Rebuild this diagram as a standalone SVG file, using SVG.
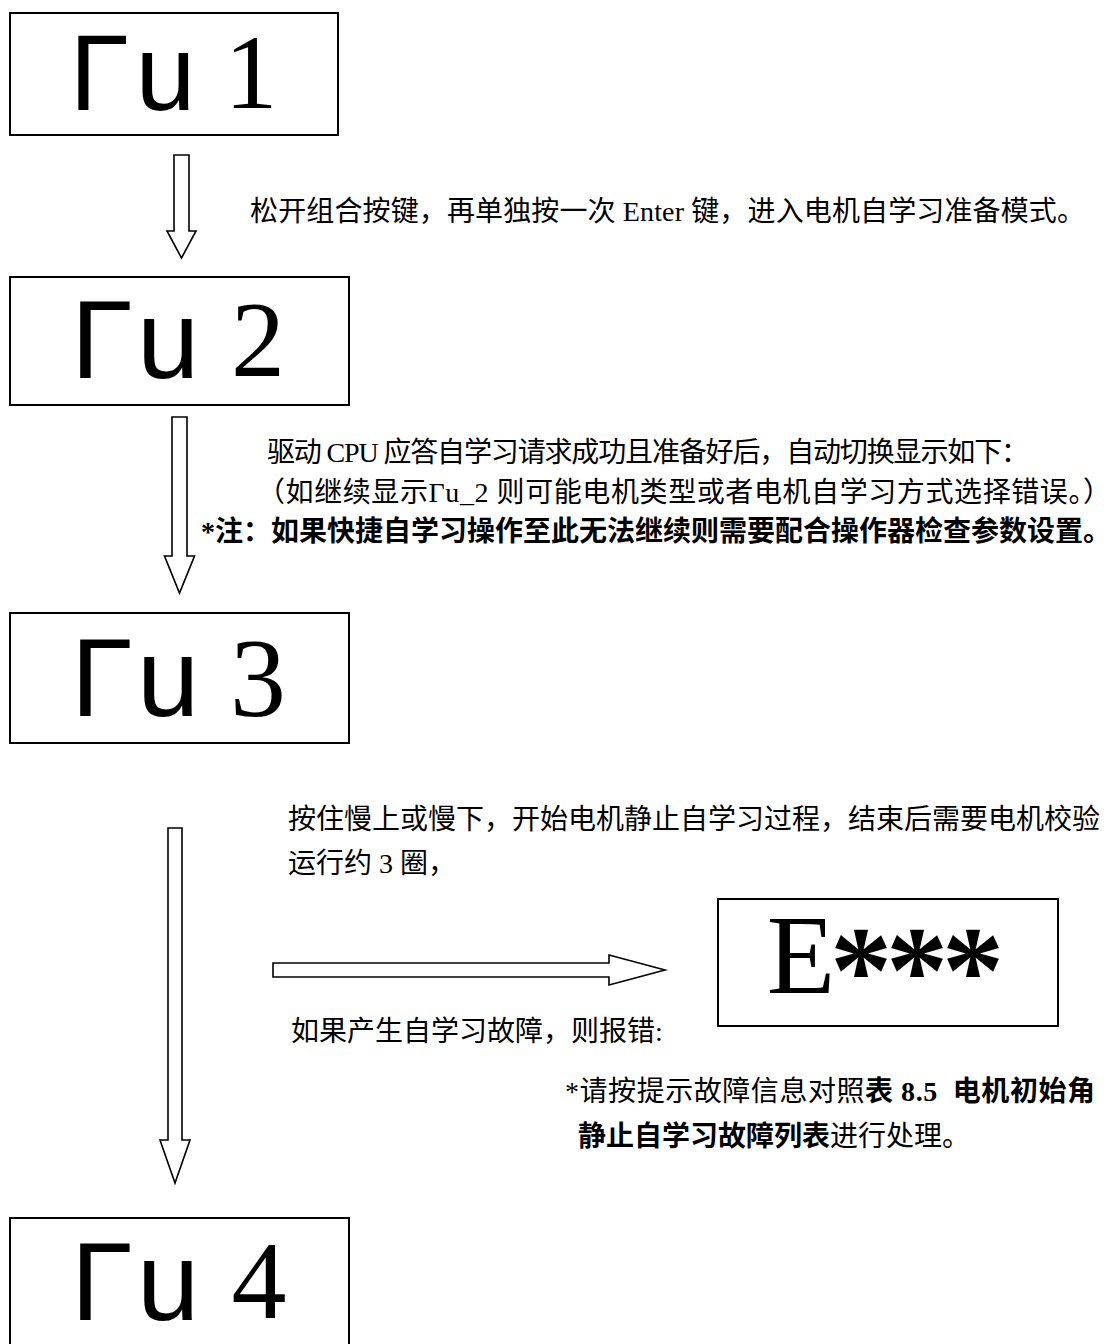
<svg xmlns="http://www.w3.org/2000/svg" width="1113" height="1344" viewBox="0 0 1113 1344">
<style>
.box{fill:#fff;stroke:#000;stroke-width:2}
.arr{fill:#fff;stroke:#000;stroke-width:1.6;stroke-linejoin:miter}
.g{font-family:"Liberation Sans",Arial,sans-serif;fill:#000}
.d{font-family:"Liberation Serif","Times New Roman",serif;fill:#000;text-anchor:middle}
.t{font-family:"Liberation Serif","Noto Sans CJK SC",serif;font-size:28px;fill:#000}
.b{font-weight:bold}
</style>
<rect width="1113" height="1344" fill="#fff"/>
<g id="connectors">
<polygon class="arr" points="174,155 189,155 189,231 196,231 181.5,258 167,231 174,231"/>
<polygon class="arr" points="172,417 187,417 187,556 194.5,556 179.5,593 164.5,556 172,556"/>
<polygon class="arr" points="168,828 182,828 182,1140 190,1140 175,1183 160,1140 168,1140"/>
<polygon class="arr" points="273,963 609,963 609,955 665,970 609,985 609,977 273,977"/>
</g>
<g id="node-ru1">
<rect class="box" x="10" y="13" width="328" height="122"/>
<text class="g" x="69.5" y="110" font-size="108" letter-spacing="6.5">Γu</text>
<text class="d" x="251" y="108" font-size="106">1</text>
</g>
<g id="node-ru2">
<rect class="box" x="10" y="277" width="339" height="128"/>
<text class="g" x="71" y="378" font-size="112" letter-spacing="4.3">Γu</text>
<text class="d" x="258" y="376" font-size="108">2</text>
</g>
<g id="node-ru3">
<rect class="box" x="10" y="613" width="339" height="130"/>
<text class="g" x="71" y="716" font-size="112" letter-spacing="4.3">Γu</text>
<text class="d" x="258" y="716" font-size="112">3</text>
</g>
<g id="node-ru4">
<rect class="box" x="10" y="1218" width="339" height="140"/>
<text class="g" x="71" y="1320" font-size="112" letter-spacing="4.3">Γu</text>
<text class="d" x="259" y="1318" font-size="110">4</text>
</g>
<g id="node-err">
<rect class="box" x="718" y="899" width="340" height="127"/>
<text class="d" x="801" y="993" font-size="112">E</text>
<text class="d" y="1012" font-size="124" font-weight="bold"><tspan x="861">*</tspan><tspan x="917">*</tspan><tspan x="973">*</tspan></text>
</g>
<g id="labels">
<text class="t" x="250" y="221" textLength="835" lengthAdjust="spacing">松开组合按键，再单独按一次 Enter 键，进入电机自学习准备模式。</text>
<text class="t" x="267" y="462" textLength="762" lengthAdjust="spacing">驱动 CPU 应答自学习请求成功且准备好后，自动切换显示如下：</text>
<text class="t" x="257" y="502" textLength="854" lengthAdjust="spacing">（如继续显示Γu_2 则可能电机类型或者电机自学习方式选择错误。）</text>
<text class="t b" x="201" y="541">*注：如果快捷自学习操作至此无法继续则需要配合操作器检查参数设置。</text>
<text class="t" x="288" y="829">按住慢上或慢下，开始电机静止自学习过程，结束后需要电机校验</text>
<text class="t" x="288" y="873">运行约 3 圈，</text>
<text class="t" x="291" y="1041">如果产生自学习故障，则报错:</text>
<text class="t" x="565" y="1101" textLength="530" lengthAdjust="spacing">*请按提示故障信息对照<tspan class="b">表 8.5&#160; 电机初始角</tspan></text>
<text class="t" x="578" y="1146"> <tspan class="b">静止自学习故障列表</tspan>进行处理。</text>
</g>
</svg>
